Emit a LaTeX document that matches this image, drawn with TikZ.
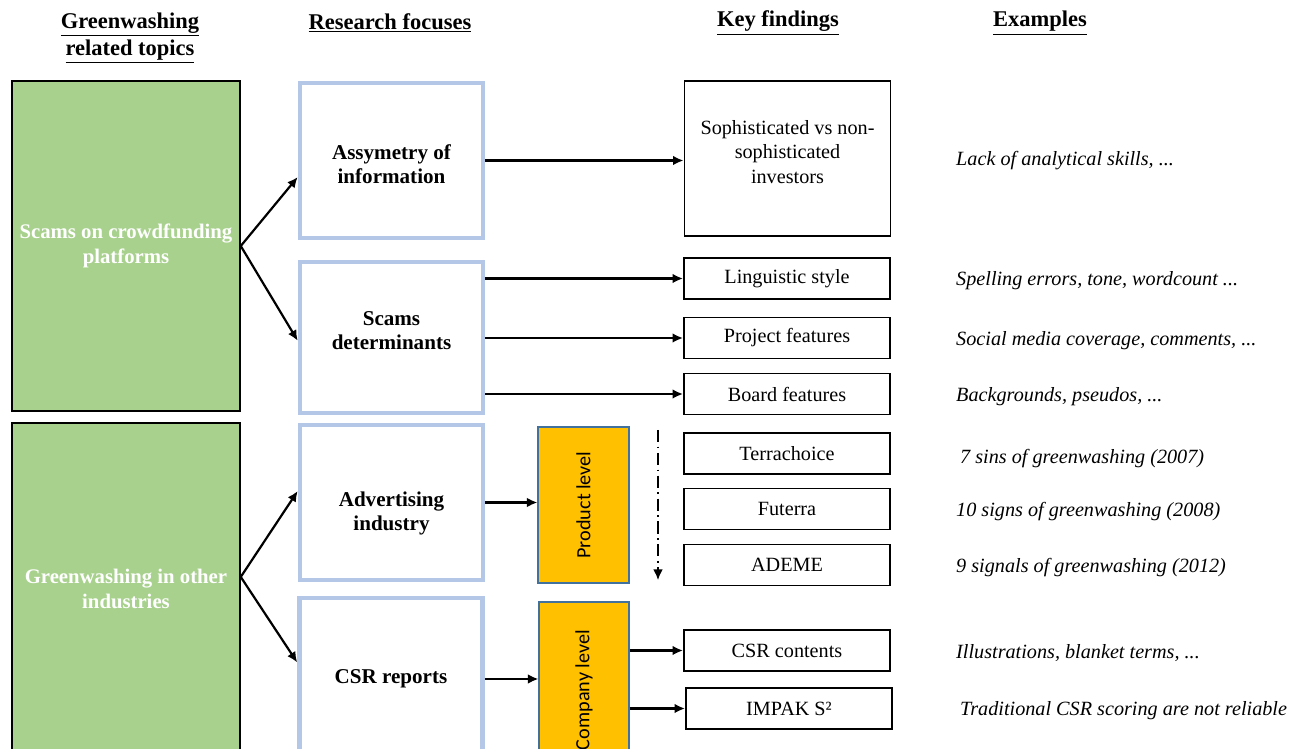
\documentclass[tikz,border=0pt]{standalone}
\usepackage{fontspec}
\setmainfont{Liberation Serif}
\newfontfamily\levelfont{Carlito}
\usetikzlibrary{arrows.meta}
\definecolor{topicgreen}{HTML}{A9D18E}
\definecolor{focusblue}{HTML}{B4C7E7}
\definecolor{levelorange}{HTML}{FFC000}
\definecolor{levelline}{HTML}{41719C}

\begin{document}
\begin{tikzpicture}[x=0.02cm, y=-0.02cm,
  every node/.style={font=\fontsize{11.5}{13.8}\selectfont},
  header/.style={font=\fontsize{12.8}{15.4}\selectfont\bfseries, align=center},
  topic/.style={draw=black, line width=0.9pt, fill=topicgreen, text=white,
    minimum width=4.56cm, align=center, font=\fontsize{11.8}{13.8}\selectfont\bfseries},
  focus/.style={draw=focusblue, line width=2.6pt, fill=white,
    minimum width=3.66cm, align=center, font=\fontsize{12}{13.8}\selectfont\bfseries},
  level/.style={draw=levelline, line width=0.6pt, fill=levelorange, rotate=90,
    font=\fontsize{11.5}{13.8}\levelfont},
  finding/.style={draw=black, line width=1.1pt, minimum width=4.12cm,
    minimum height=0.82cm, align=center},
  example/.style={anchor=west, yshift=-0.05cm, font=\fontsize{11.5}{13.8}\selectfont\itshape},
  link/.style={-{Latex[length=6pt,width=5.5pt]}, line width=1.25pt}]
  \useasboundingbox (0,0) rectangle (1296,749);
  \clip (0,0) rectangle (1296,749);

  % column headers
  \node[header] (hTopics) at (130,38) {\underline{Greenwashing}\\\underline{related topics}};
  \node[header] (hFocus) at (390,23) {\underline{Research focuses}};
  \node[header] (hFind) at (778,23) {\underline{Key findings}};
  \node[header] (hEx) at (1040,23) {\underline{Examples}};

  % topics
  \node[topic, minimum height=6.6cm] (crowd) at (126,246) {Scams on crowdfunding\\platforms};
  \node[topic, minimum height=6.64cm] (other) at (126,589) {Greenwashing in other\\industries};

  % research focuses
  \node[focus, minimum height=3.1cm, text height=26.8pt] (asym) at (391.5,160.5) {Assymetry of\\information};
  \node[focus, minimum height=3.02cm, text depth=8pt] (det) at (391.5,337.5) {Scams\\determinants};
  \node[focus, minimum height=3.1cm, text height=34.5pt] (adv) at (391.5,502.5) {Advertising\\industry};
  \node[focus, minimum height=3.24cm] (csr) at (391,679) {CSR reports};

  % levels (rotated: north is the left side, south the right side)
  \node[level, minimum width=3.12cm, minimum height=1.82cm] (prod) at (583.5,505) {Product level};
  \node[level, minimum width=3.52cm, minimum height=1.8cm] (comp) at (584,690) {Company level};

  % key findings
  \node[finding, minimum height=3.1cm, text depth=7.5pt] (soph) at (787.5,158.5) {Sophisticated vs non-\\sophisticated\\investors};
  \node[finding] (ling) at (787,278.5) {Linguistic style};
  \node[finding] (proj) at (787,338) {Project features};
  \node[finding] (board) at (787,394) {Board features};
  \node[finding] (terra) at (787,453.5) {Terrachoice};
  \node[finding] (fut) at (787,509) {Futerra};
  \node[finding] (ademe) at (787,565) {ADEME};
  \node[finding] (csrc) at (787,650.5) {CSR contents};
  \node[finding] (impak) at (789,708.5) {IMPAK S²};

  % examples
  \coordinate (excol) at (950,0);
  \node[example] (exSoph) at (excol |- soph) {Lack of analytical skills, ...};
  \node[example] (exLing) at (excol |- ling) {Spelling errors, tone, wordcount ...};
  \node[example] (exProj) at (excol |- proj) {Social media coverage, comments, ...};
  \node[example] (exBoard) at (excol |- board) {Backgrounds, pseudos, ...};
  \node[example, xshift=0.08cm, yshift=-0.06cm] (exTerra) at (excol |- terra) {7 sins of greenwashing (2007)};
  \node[example] (exFut) at (excol |- fut) {10 signs of greenwashing (2008)};
  \node[example] (exAdeme) at (excol |- ademe) {9 signals of greenwashing (2012)};
  \node[example] (exCsrc) at (excol |- csrc) {Illustrations, blanket terms, ...};
  \node[example, xshift=0.08cm] (exImpak) at (excol |- impak) {Traditional CSR scoring are not reliable};

  % connectors
  \draw[link] (crowd.east) -- (asym.190);
  \draw[link] (crowd.east) -- (det.182);
  \draw[link] (other.6) -- (adv.173);
  \draw[link] (other.6) -- (csr.170);
  \draw[link] (asym.east) -- (soph.west |- asym.east);
  \draw[link] (det.east |- ling.west) -- (ling.west);
  \draw[link] (det.east |- proj.west) -- (proj.west);
  \draw[link] (det.east |- board.west) -- (board.west);
  \draw[link] (adv.east) -- (prod.north |- adv.east);
  \draw[link] (csr.east) -- (comp.north |- csr.east);
  \draw[link] (comp.south |- csrc.west) -- (csrc.west);
  \draw[link] (comp.south |- impak.west) -- (impak.west);
  \coordinate (dTop) at (658,430);
  \coordinate (dBot) at (658,580);
  \draw[link, line width=0.8pt, dash pattern=on 7pt off 2.5pt on 1pt off 2.5pt] (dTop) -- (dBot);
\end{tikzpicture}
\end{document}
